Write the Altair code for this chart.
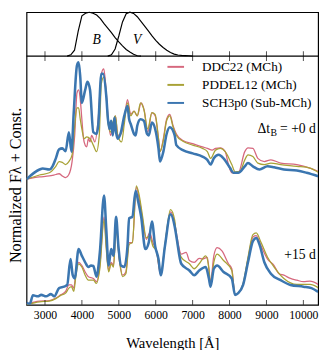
import altair as alt
import pandas as pd

FONT = "Liberation Serif"
WL_DOMAIN = [2500, 10400]
MAIN_DOMAIN = [0, 11.765]
FILT_DOMAIN = [-5.667, 1]

models = ["DDC22 (MCh)", "PDDEL12 (MCh)", "SCH3p0 (Sub-MCh)"]
colors = ["#d6687e", "#a8a236", "#3b76b0"]
widths = [1.3, 1.3, 2.6]

# ---- +0 d spectra ----
ddc_0_wl = [2500, 2852, 3117, 3294, 3382, 3469, 3559, 3647, 3734, 3805, 3866, 3911, 3956, 3999, 4044,
            4089, 4131, 4176, 4221, 4264, 4354, 4441, 4528, 4592, 4634, 4706, 4777, 4838, 4909, 4971,
            5058, 5148, 5235, 5323, 5413, 5500, 5606, 5693, 5783, 5897, 5985, 6075, 6117, 6207, 6295,
            6382, 6470, 6559, 6737, 7002, 7266, 7399, 7531, 7619, 7751, 7883, 7971, 8061, 8236, 8413,
            8500, 8633, 8766, 8943, 9120, 9385, 9824, 10179, 10400]
ddc_0_fl = [5.05, 5.14, 5.18, 5.24, 5.27, 5.18, 5.11, 5.24, 5.76, 6.81, 8.51, 8.64, 8.25, 7.46, 6.68,
            6.42, 6.35, 6.68, 6.55, 6.81, 6.55, 7.46, 9.29, 9.49, 9.03, 7.60, 6.81, 7.20, 7.60, 6.81,
            6.87, 7.46, 8.25, 7.66, 7.79, 7.60, 8.12, 7.79, 6.94, 7.73, 7.60, 6.68, 6.16, 6.68, 7.46,
            7.66, 7.20, 6.87, 6.61, 6.48, 6.35, 6.29, 6.22, 6.29, 6.31, 6.16, 5.64, 5.31, 5.31, 6.16,
            6.31, 6.29, 5.89, 5.76, 5.83, 5.70, 5.64, 5.50, 5.37]

pdd_0_wl = [2500, 2852, 3117, 3294, 3382, 3469, 3559, 3647, 3734, 3805, 3866, 3911, 3956, 3999, 4062,
            4131, 4221, 4309, 4396, 4470, 4528, 4592, 4650, 4706, 4777, 4838, 4909, 4971, 5076, 5148,
            5235, 5323, 5413, 5500, 5588, 5678, 5783, 5897, 5985, 6075, 6117, 6207, 6295, 6382, 6470,
            6559, 6737, 7002, 7266, 7399, 7486, 7619, 7751, 7883, 8061, 8149, 8281, 8413, 8500, 8633,
            8766, 8943, 9120, 9385, 9824, 10179, 10400]
pdd_0_fl = [5.05, 5.22, 5.31, 5.57, 5.76, 5.73, 5.64, 5.76, 6.03, 7.20, 7.92, 7.92, 7.46, 7.07, 6.68,
            6.75, 6.68, 6.42, 6.16, 6.81, 8.90, 9.16, 8.64, 7.33, 6.94, 7.33, 7.60, 6.81, 6.55, 7.27,
            8.12, 7.60, 7.79, 7.60, 8.12, 7.86, 7.07, 7.73, 7.66, 6.68, 6.16, 6.61, 7.40, 7.60, 7.15,
            6.81, 6.58, 6.42, 6.29, 6.16, 5.89, 6.22, 6.29, 6.16, 5.64, 5.35, 5.37, 5.83, 6.03, 5.96,
            5.70, 5.64, 5.70, 5.64, 5.57, 5.50, 5.33]

sch_0_wl = [2500, 2852, 2940, 3117, 3204, 3294, 3382, 3469, 3559, 3647, 3718, 3779, 3866, 3911, 3956,
            3999, 4089, 4150, 4221, 4309, 4396, 4441, 4528, 4573, 4661, 4706, 4751, 4793, 4838, 4883,
            4926, 4971, 5058, 5148, 5235, 5280, 5323, 5413, 5455, 5500, 5588, 5678, 5765, 5810, 5897,
            5985, 6075, 6117, 6207, 6295, 6382, 6514, 6559, 6737, 7002, 7266, 7399, 7486, 7574, 7706,
            7838, 8016, 8103, 8236, 8413, 8500, 8633, 8810, 9030, 9207, 9472, 9824, 10089, 10400]
sch_0_fl = [5.05, 5.44, 5.48, 5.44, 5.57, 5.89, 6.25, 6.29, 6.18, 6.94, 6.16, 7.73, 9.62, 9.75, 9.16,
            8.12, 8.64, 8.97, 8.64, 6.94, 6.87, 7.20, 9.29, 9.29, 8.38, 7.46, 7.07, 7.40, 6.81, 7.53,
            6.94, 6.68, 6.94, 7.60, 7.99, 7.46, 7.27, 6.87, 6.81, 7.20, 7.46, 7.40, 6.87, 6.81, 7.33,
            7.07, 6.29, 5.76, 6.16, 6.87, 7.14, 6.81, 6.42, 6.22, 6.09, 5.96, 5.83, 5.64, 5.89, 6.03,
            5.89, 5.50, 5.31, 5.31, 5.57, 5.70, 5.57, 5.44, 5.57, 5.53, 5.44, 5.40, 5.31, 5.17]

# ---- +15 d spectra ----
ddc_15_wl = [2500, 2852, 3117, 3294, 3426, 3559, 3647, 3718, 3779, 3840, 3911, 3999, 4089, 4176, 4309,
             4396, 4486, 4600, 4661, 4724, 4793, 4856, 4926, 5015, 5103, 5191, 5280, 5368, 5474, 5545,
             5633, 5747, 5836, 5924, 6019, 6136, 6250, 6401, 6514, 6559, 6692, 6824, 6912, 7044, 7177,
             7266, 7399, 7486, 7574, 7663, 7795, 7971, 8061, 8149, 8236, 8368, 8500, 8633, 8722, 8855,
             9030, 9207, 9340, 9472, 9650, 9824, 10002, 10179, 10400]
ddc_15_fl = [0.04, 0.15, 0.17, 0.27, 0.40, 0.54, 0.80, 0.80, 0.67, 1.32, 1.71, 1.58, 1.32, 1.13, 1.06,
             0.93, 1.58, 3.54, 2.36, 1.38, 1.71, 1.58, 3.15, 1.84, 1.19, 1.32, 2.50, 2.50, 4.72, 4.33,
             3.54, 2.63, 2.89, 2.50, 2.17, 1.19, 2.36, 3.74, 3.28, 2.89, 2.04, 2.11, 1.78, 1.71, 1.87,
             1.84, 1.91, 0.93, 1.97, 2.30, 2.17, 1.65, 1.45, 0.40, 0.47, 0.80, 1.84, 2.73, 2.78, 2.36,
             1.84, 1.58, 1.25, 1.19, 1.06, 0.99, 0.93, 0.95, 0.82]

pdd_15_wl = [2500, 2852, 3117, 3294, 3426, 3559, 3647, 3718, 3779, 3840, 3911, 3999, 4089, 4176, 4309,
             4396, 4486, 4600, 4661, 4724, 4793, 4856, 4926, 5015, 5103, 5191, 5280, 5368, 5474, 5545,
             5633, 5747, 5836, 5924, 6019, 6136, 6250, 6401, 6514, 6559, 6692, 6912, 7044, 7177, 7354,
             7441, 7486, 7574, 7663, 7838, 8061, 8149, 8236, 8368, 8500, 8633, 8722, 8855, 9030, 9207,
             9472, 9824, 10179, 10400]
pdd_15_fl = [0.01, 0.12, 0.15, 0.25, 0.38, 0.47, 0.67, 0.73, 0.54, 1.19, 1.65, 1.52, 1.19, 0.99, 0.99,
             0.86, 1.45, 3.41, 2.24, 1.32, 1.65, 1.52, 3.02, 1.78, 1.13, 1.25, 2.43, 2.50, 4.78, 4.46,
             3.67, 2.69, 2.76, 2.36, 2.17, 1.25, 2.43, 3.83, 3.41, 2.76, 1.91, 1.65, 1.45, 1.65, 1.97,
             1.45, 0.80, 1.71, 2.04, 1.78, 1.38, 0.40, 0.47, 0.86, 1.91, 2.82, 2.89, 2.50, 1.91, 1.52,
             1.06, 0.82, 0.82, 0.69]

sch_15_wl = [2500, 2587, 2675, 2807, 2897, 3030, 3162, 3249, 3382, 3514, 3602, 3692, 3752, 3805, 3911,
             3999, 4089, 4176, 4248, 4309, 4396, 4486, 4600, 4661, 4724, 4793, 4856, 4926, 4989, 5058,
             5148, 5235, 5280, 5368, 5455, 5519, 5606, 5720, 5810, 5897, 5985, 6075, 6136, 6250, 6401,
             6514, 6559, 6692, 6912, 7044, 7177, 7354, 7441, 7486, 7574, 7663, 7838, 8061, 8149, 8236,
             8368, 8500, 8633, 8722, 8810, 8943, 9120, 9385, 9650, 10002, 10222, 10400]
sch_15_fl = [0.08, 0.04, 0.38, 0.34, 0.40, 0.34, 0.43, 0.34, 0.67, 0.73, 0.80, 1.84, 1.19, 1.06, 2.24,
             1.97, 1.71, 1.52, 1.58, 1.56, 1.13, 2.11, 4.39, 3.02, 1.58, 2.24, 1.97, 3.54, 2.36, 1.58,
             1.52, 2.36, 3.48, 3.54, 4.59, 4.20, 3.54, 2.24, 2.50, 3.35, 2.36, 1.84, 1.19, 2.36, 3.64,
             3.15, 2.76, 1.65, 1.38, 1.19, 1.38, 1.52, 1.06, 0.73, 1.45, 1.58, 1.32, 1.06, 0.40, 0.47,
             0.80, 1.71, 2.56, 2.69, 2.43, 1.71, 1.25, 0.99, 0.80, 0.73, 0.67, 0.52]

# ---- filter transmission curves (normalised) ----
filt_B_wl = [3600, 3700, 3800, 3900, 4000, 4100, 4200, 4300, 4400, 4500, 4600, 4700, 4800, 4900,
             5000, 5100, 5200, 5300, 5400, 5500, 5600]
filt_B_tr = [0.0, 0.03, 0.134, 0.567, 0.92, 0.978, 1.0, 0.978, 0.935, 0.853, 0.74, 0.64, 0.536,
             0.424, 0.325, 0.235, 0.15, 0.095, 0.043, 0.009, 0.0]
filt_V_wl = [4700, 4800, 4900, 5000, 5100, 5200, 5300, 5400, 5500, 5600, 5700, 5800, 5900, 6000,
             6100, 6200, 6300, 6400, 6500, 6600, 6700, 6800, 6900, 7000]
filt_V_tr = [0.0, 0.03, 0.163, 0.458, 0.78, 0.967, 1.0, 0.973, 0.898, 0.792, 0.684, 0.574, 0.461,
             0.359, 0.27, 0.197, 0.135, 0.081, 0.045, 0.025, 0.017, 0.013, 0.009, 0.0]

x_ticks = [3000, 4000, 5000, 6000, 7000, 8000, 9000, 10000]
tick_levels = [0, 10]

series = [
    (models[0], "+0", ddc_0_wl, ddc_0_fl), (models[1], "+0", pdd_0_wl, pdd_0_fl),
    (models[2], "+0", sch_0_wl, sch_0_fl), (models[0], "+15", ddc_15_wl, ddc_15_fl),
    (models[1], "+15", pdd_15_wl, pdd_15_fl), (models[2], "+15", sch_15_wl, sch_15_fl),
]
rows = []
for m, ep, wl, fl in series:
    if len(wl) != len(fl):
        raise ValueError(f"length mismatch {m} {ep}: {len(wl)} vs {len(fl)}")
    for w, f in zip(wl, fl):
        rows.append({"model": m, "epoch": ep, "wl": w, "flux": f})
spec = pd.DataFrame(rows)

filt = pd.DataFrame(
    [{"band": "B", "wl": w, "tr": t} for w, t in zip(filt_B_wl, filt_B_tr)]
    + [{"band": "V", "wl": w, "tr": t} for w, t in zip(filt_V_wl, filt_V_tr)]
)
band_labels = pd.DataFrame({"band": ["B", "V"], "wl": [4400, 5500], "tr": [0.36, 0.36]})
ticks = pd.DataFrame([{"wl": t, "lvl": l} for t in x_ticks for l in tick_levels])

xscale = alt.Scale(domain=WL_DOMAIN, nice=False, zero=False)
yscale = alt.Scale(domain=MAIN_DOMAIN, nice=False, zero=False)
legend = alt.Legend(title=None, orient="none", legendX=143, legendY=46, padding=0,
                    labelFont=FONT, labelFontSize=13.5, labelColor="black",
                    symbolType="stroke", symbolSize=290, labelOffset=17, rowPadding=1.5,
                    symbolStrokeWidth=2)
color = alt.Color("model:N", scale=alt.Scale(domain=models, range=colors), legend=legend)

x_axis = alt.Axis(values=x_ticks, format="d", ticks=False, domain=False, grid=False,
                  labelFont=FONT, labelFontSize=12, labelPadding=5, labelColor="black",
                  title="Wavelength [Å]", titleFont=FONT, titleFontSize=15,
                  titleFontWeight="normal", titlePadding=16, titleColor="black")
y_axis = alt.Axis(labels=False, ticks=False, domain=False, grid=False,
                  title="Normalized Fλ + Const.", titleFont=FONT, titleFontSize=16.5,
                  titleFontWeight="normal", titlePadding=3, titleColor="black", titleY=177)

X = alt.X("wl:Q", scale=xscale, axis=x_axis)

layers = []
for i, m in enumerate(models):
    layers.append(
        alt.Chart(spec).transform_filter(alt.datum.model == m)
        .mark_line(interpolate="monotone", clip=True, strokeWidth=widths[i])
        .encode(
            x=X,
            y=alt.Y("flux:Q", scale=yscale, axis=y_axis if i == 0 else None),
            color=color, detail="epoch:N",
        )
    )

sep = alt.Chart(pd.DataFrame({"lvl": [10]})).mark_rule(color="black", strokeWidth=1.2).encode(
    y=alt.Y("lvl:Q", scale=yscale, axis=None))
tick_marks = alt.Chart(ticks).mark_tick(orient="vertical", size=10, thickness=1,
                                        color="black", clip=True).encode(
    x=X, y=alt.Y("lvl:Q", scale=yscale, axis=None))

fscale = alt.Scale(domain=FILT_DOMAIN, nice=False, zero=False)
filt_lines = alt.Chart(filt).mark_line(color="black", strokeWidth=1.2).encode(
    x=X, y=alt.Y("tr:Q", scale=fscale, axis=None), detail="band:N")
filt_text = alt.Chart(band_labels).mark_text(font=FONT, fontSize=14, fontStyle="italic",
                                             color="black").encode(
    x=X, y=alt.Y("tr:Q", scale=fscale, axis=None), text="band:N")

ann = pd.DataFrame({"wl": [10340, 10340], "flux": [7.06, 2.0], "txt": [" = +0 d", "+15 d"]})
ann_text = alt.Chart(ann).mark_text(font=FONT, fontSize=14, align="right", color="black").encode(
    x=X, y=alt.Y("flux:Q", scale=yscale, axis=None), text="txt:N")
ann_sub = alt.Chart(ann.iloc[[0]]).mark_text(font=FONT, fontSize=10, align="right", dx=-40, dy=4,
                                             color="black").encode(
    x=X, y=alt.Y("flux:Q", scale=yscale, axis=None), text=alt.value("B"))
ann_dt = alt.Chart(ann.iloc[[0]]).mark_text(font=FONT, fontSize=14, align="right", dx=-47,
                                            color="black").encode(
    x=X, y=alt.Y("flux:Q", scale=yscale, axis=None), text=alt.value("Δt"))

chart = alt.layer(*layers, sep, tick_marks, filt_lines, filt_text, ann_text, ann_sub, ann_dt
                  ).resolve_scale(y="independent").properties(
    width=299, height=300,
    autosize=alt.AutoSizeParams(type="none"),
    padding={"left": 19, "top": 0, "right": 5, "bottom": 42},
).configure(font=FONT).configure_axis(labelFont=FONT, titleFont=FONT).configure_legend(
    labelFont=FONT).configure_view(stroke="black", strokeWidth=1.2)

chart.save("out.html", embed_options={"renderer": "svg", "actions": False})
